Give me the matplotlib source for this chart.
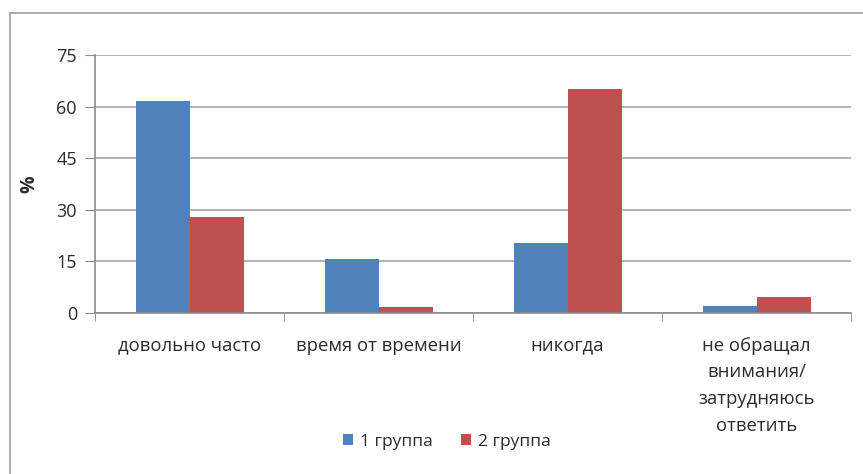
import matplotlib
matplotlib.use('Agg')
import matplotlib.pyplot as plt
import numpy as np
from matplotlib.lines import Line2D

# Ответы по категориям, % в каждой группе
categories = ['довольно часто', 'время от времени', 'никогда',
              'не обращал\nвнимания/\nзатрудняюсь\nответить']
group1 = [61.5, 15.7, 20.3, 2.0]
group2 = [28.0, 1.7, 65.0, 4.7]
series_names = ['1 группа', '2 группа']

plt.rcParams['font.family'] = ['Open Sans', 'DejaVu Sans']
TEXT = '#2b2b2b'

fig = plt.figure(figsize=(8.63, 4.74), dpi=100)
ax = fig.add_axes([95 / 863, 1 - 313 / 474, 756 / 863, 258 / 474])

# рамка диаграммы: верх и левый край
fx, fy = 9.5 / 863, 1 - 12.5 / 474
fig.lines.append(Line2D([fx, 1], [fy, fy], transform=fig.transFigure,
                        color='#a6a6a6', linewidth=1.3))
fig.lines.append(Line2D([fx, fx], [0, fy], transform=fig.transFigure,
                        color='#a6a6a6', linewidth=1.3))

x = np.arange(len(categories))
w = 1 / 3.5
ax.bar(x - w / 2, group1, w, color='#4f81bd', label=series_names[0])
ax.bar(x + w / 2, group2, w, color='#c0504d', label=series_names[1])

ax.set_xlim(-0.5, len(categories) - 0.5)
ax.set_ylim(0, 75)
ax.set_yticks(range(0, 76, 15))
ax.yaxis.grid(True, color='#a6a6a6', linewidth=1.2)
ax.set_axisbelow(True)

ax.set_xticks(x)
ax.set_xticklabels(categories, fontsize=13.3, color=TEXT, linespacing=1.62)
ax.tick_params(axis='x', length=0, pad=17)
ax.set_xticks(np.arange(-0.5, len(categories), 1), minor=True)
ax.tick_params(axis='x', which='minor', length=6, color='#8c8c8c')
ax.tick_params(axis='y', labelsize=13, colors=TEXT, length=7, color='#8c8c8c', pad=6)

for side in ['top', 'right']:
    ax.spines[side].set_visible(False)
for side in ['left', 'bottom']:
    ax.spines[side].set_color('#8c8c8c')
    ax.spines[side].set_linewidth(1.2)

ax.set_ylabel('%', fontsize=14, fontweight='bold', color=TEXT, labelpad=12)

fig.legend(loc='center', bbox_to_anchor=(447 / 863, 1 - 442 / 474), ncol=2,
           frameon=False, fontsize=12.5, handlelength=0.6, handleheight=0.6,
           columnspacing=1.6, handletextpad=0.4, labelcolor=TEXT)

plt.savefig('out.png', dpi=100)
